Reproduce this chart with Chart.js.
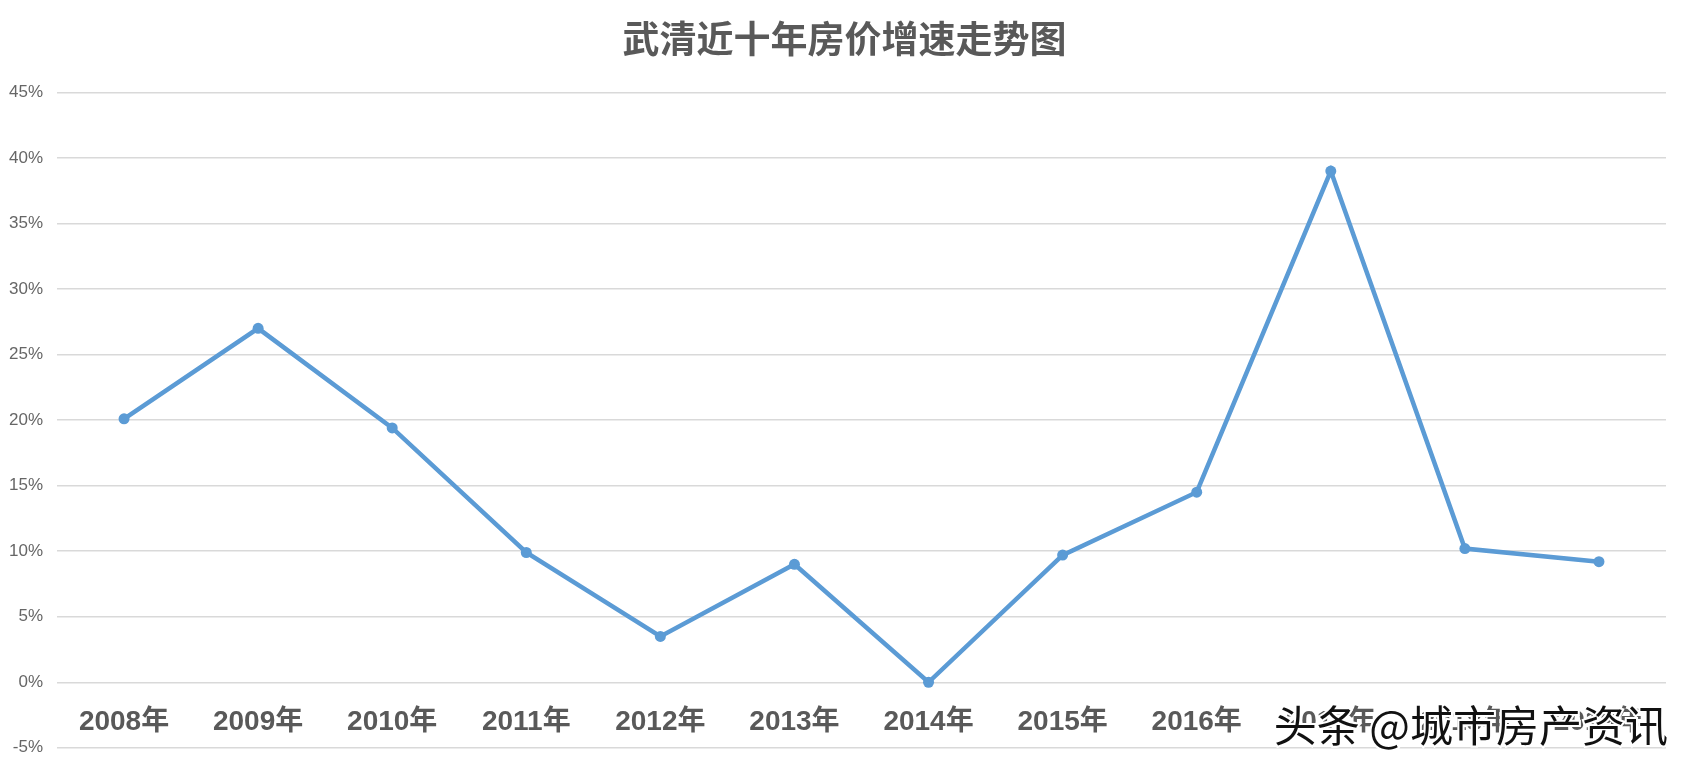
<!DOCTYPE html>
<html>
<head>
<meta charset="utf-8">
<script src="https://cdn.jsdelivr.net/npm/chart.js@4"></script>
<style>
  body { margin: 0; background: #fff; }
  #wrap { width: 1689px; height: 772px; }
</style>
</head>
<body>
<div id="wrap"><canvas id="myChart"></canvas></div>
<script>
const years = ["2008年", "2009年", "2010年", "2011年", "2012年", "2013年",
  "2014年", "2015年", "2016年", "2017年", "2018年", "2019年"];
const growth = [20.1, 27.0, 19.4, 9.9, 3.5, 9.0, 0.0, 9.7, 14.5, 39.0, 10.2, 9.2];
const yMin = -5;
const yMax = 45;
const yStep = 5;
const watermark = "头条 @城市房产资讯";

// 水印
const watermarkPlugin = {
  id: "watermark",
  afterDraw(chart) {
    const ctx = chart.ctx;
    ctx.save();
    ctx.font = '43px "Noto Sans CJK SC"';
    ctx.textAlign = "right";
    ctx.textBaseline = "middle";
    ctx.lineWidth = 4;
    ctx.strokeStyle = "#fff";
    ctx.strokeText(watermark, 1668, 726);
    ctx.fillStyle = "#111";
    ctx.fillText(watermark, 1668, 726);
    ctx.restore();
  },
};

let chart = document.getElementById("myChart").getContext("2d");
new Chart(chart, {
  type: "line",
  data: {
    labels: years,
    datasets: [{
      data: growth,
      borderColor: "#5b9bd5",
      backgroundColor: "#5b9bd5",
      borderWidth: 4.5,
      pointRadius: 5.5,
      pointBorderWidth: 0,
      tension: 0,
    }],
  },
  options: {
    responsive: true,
    maintainAspectRatio: false,
    animation: false,
    layout: { padding: { left: 0, right: 0, bottom: 24 } },
    plugins: {
      legend: { display: false },
      tooltip: { enabled: false },
      title: {
        display: true,
        text: "武清近十年房价增速走势图",
        color: "#595959",
        font: { family: '"Noto Sans CJK SC"', size: 37, weight: "bold" },
        padding: { top: 17, bottom: 31 },
      },
    },
    scales: {
      x: {
        position: { y: 0 },
        offset: true,
        grid: { display: false, drawTicks: false },
        border: { display: false },
        ticks: {
          color: "#595959",
          padding: 23,
          maxRotation: 0,
          autoSkip: false,
          font: { family: '"Liberation Sans", "Noto Sans CJK SC"', size: 28, weight: "bold" },
        },
      },
      y: {
        min: yMin,
        max: yMax,
        afterFit(scale) { scale.width = 57; },
        grid: { color: "#d9d9d9", lineWidth: 1.5, drawTicks: false },
        border: { display: false },
        ticks: {
          stepSize: yStep,
          padding: 14,
          color: "#666",
          font: { family: '"Liberation Sans Narrow", "Liberation Sans"', size: 17 },
          callback: (v) => v + "%",
        },
      },
      // 右侧留白
      yRight: {
        position: "right",
        min: yMin,
        max: yMax,
        afterFit(scale) { scale.width = 23; },
        grid: { display: false, drawTicks: false },
        border: { display: false },
        ticks: { display: false },
      },
    },
  },
  plugins: [watermarkPlugin],
});
</script>
</body>
</html>
